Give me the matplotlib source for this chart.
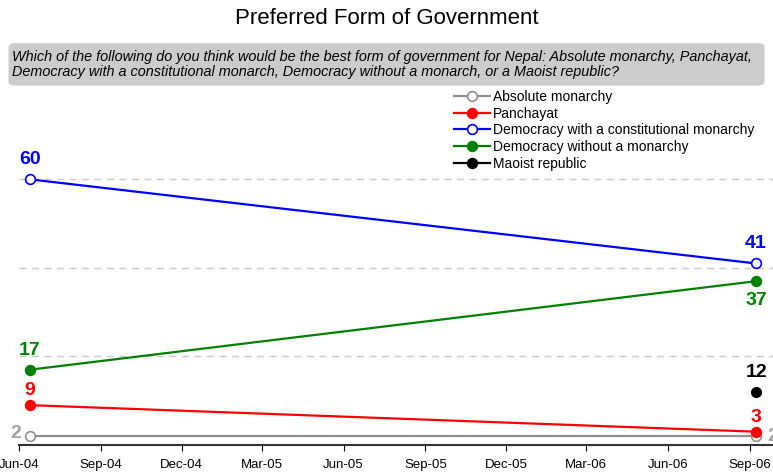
import numpy as np
import matplotlib.pyplot as plt
import matplotlib.dates as mdates
from matplotlib.patches import FancyBboxPatch
from datetime import datetime

plt.rcParams['font.family'] = ['Liberation Sans', 'DejaVu Sans']

dates = [datetime(2004, 6, 13), datetime(2006, 9, 8)]
series = ['Absolute monarchy', 'Panchayat', 'Democracy with a constitutional monarchy',
          'Democracy without a monarchy', 'Maoist republic']
absolute = [2, 2]
panchayat = [9, 3]
democ_const = [60, 41]
democ_nomon = [17, 37]
maoist = [None, 12]

fig = plt.figure(figsize=(7.73, 4.75), dpi=100)
fig.text(0.5, 0.962, 'Preferred Form of Government', ha='center', va='center', fontsize=16)

# question box
box = FancyBboxPatch((0.011, 0.82), 0.978, 0.089, boxstyle='round,pad=0,rounding_size=0.008',
                     transform=fig.transFigure, facecolor='#cccccc', edgecolor='none')
fig.patches.append(box)
fig.text(0.015, 0.865, 'Which of the following do you think would be the best form of government for Nepal: '
         'Absolute monarchy, Panchayat,\nDemocracy with a constitutional monarch, Democracy without a monarch, '
         'or a Maoist republic?', ha='left', va='center', fontsize=10.4, style='italic', linespacing=1.1)

ax = fig.add_axes([19 / 773, 1 - 445 / 475, 1 - 19 / 773, (445 - 93) / 475])
ax.set_xlim(datetime(2004, 6, 1), datetime(2006, 9, 27))
ax.set_ylim(0, 79.5)

for y in [20, 40, 60]:
    ax.axhline(y, color='#c8c8c8', lw=1, ls=(0, (5, 4)), zorder=0)

kw = dict(lw=1.6, ms=7, markeredgewidth=1.2)
ax.plot(dates, absolute, color='#909090', marker='o', mfc='white', mec='#909090', label=series[0], **kw)
ax.plot(dates, panchayat, color='red', marker='o', mfc='red', mec='red', label=series[1], **kw)
ax.plot(dates, democ_const, color='blue', marker='o', mfc='white', mec='blue', label=series[2], **kw)
ax.plot(dates, democ_nomon, color='green', marker='o', mfc='green', mec='green', label=series[3], **kw)
ax.plot(dates[1:], maoist[1:], color='black', marker='o', mfc='black', mec='black', lw=1.6, ms=7)
ax.plot([], [], color='black', marker='o', mfc='black', mec='black', label=series[4], **kw)

lab = dict(fontsize=14, fontweight='bold', ha='center')
ax.text(dates[0], democ_const[0] + 2.5, str(democ_const[0]), color='blue', va='bottom', **lab)
ax.text(dates[0], democ_nomon[0] + 2.5, str(democ_nomon[0]), color='green', va='bottom', **lab)
ax.text(dates[0], panchayat[0] + 1.5, str(panchayat[0]), color='red', va='bottom', **lab)
ax.annotate(str(absolute[0]), (dates[0], absolute[0]), xytext=(-10, 2), textcoords='offset points',
            color='#a0a0a0', va='center', **lab)
ax.text(dates[1], democ_const[1] + 2.5, str(democ_const[1]), color='blue', va='bottom', **lab)
ax.text(dates[1], democ_nomon[1] - 2.5, str(democ_nomon[1]), color='green', va='top', **lab)
ax.text(dates[1], maoist[1] + 2.5, str(maoist[1]), color='black', va='bottom', **lab)
ax.text(dates[1], panchayat[1] + 1.2, str(panchayat[1]), color='red', va='bottom', **lab)
ax.annotate(str(absolute[1]), (dates[1], absolute[1]), xytext=(12, 0), textcoords='offset points',
            color='#a0a0a0', va='center', **lab)

ax.legend(loc='upper left', bbox_to_anchor=(0.57, 1.025), frameon=False, fontsize=10,
          handlelength=2.6, handletextpad=0.15, labelspacing=0.2, borderaxespad=0)

ax.xaxis.set_major_locator(mdates.MonthLocator(bymonth=[3, 6, 9, 12]))
ax.xaxis.set_major_formatter(mdates.DateFormatter('%b-%y'))
ax.tick_params(axis='x', labelsize=9.5, length=4, direction='out', pad=6)
ax.set_yticks([])
for s in ['left', 'right', 'top']:
    ax.spines[s].set_visible(False)
ax.spines['bottom'].set_color('#333333')
ax.spines['bottom'].set_linewidth(1.5)

fig.savefig('out.png', dpi=100)
